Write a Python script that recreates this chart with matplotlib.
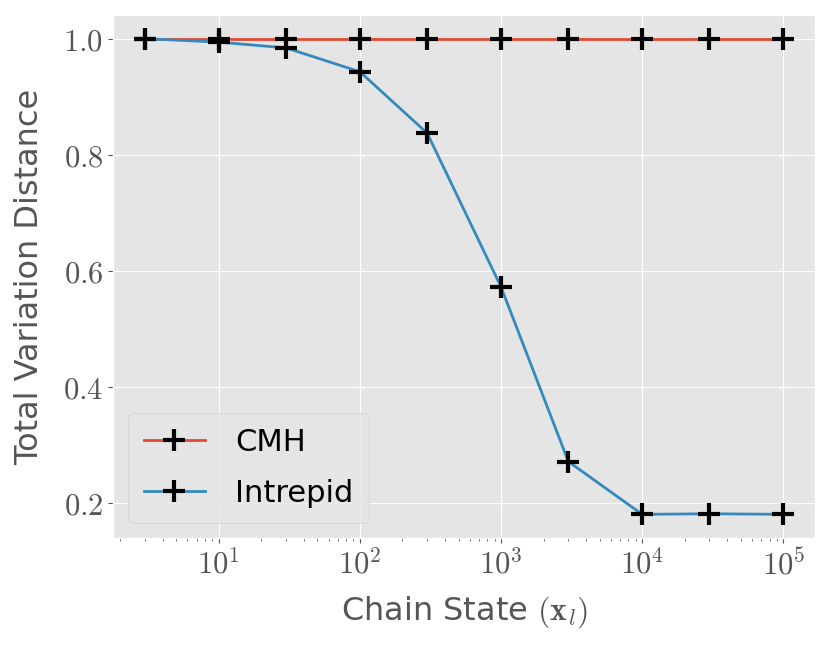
import numpy as np
import matplotlib
matplotlib.use("Agg")
import matplotlib.pyplot as plt
from matplotlib.ticker import FuncFormatter

# chain states and total variation distance
states = [3, 10, 30, 100, 300, 1000, 3000, 10000, 30000, 100000]
cmh = [1.0, 1.0, 1.0, 1.0, 1.0, 1.0, 1.0, 1.0, 1.0, 1.0]
intrepid = [1.0, 0.994, 0.984, 0.943, 0.837, 0.572, 0.271, 0.180, 0.181, 0.180]

plt.style.use("ggplot")
plt.rcParams["mathtext.fontset"] = "cm"
plt.rcParams["font.family"] = ["DejaVu Sans"]

fig, ax = plt.subplots(figsize=(8.31, 6.46), dpi=100)
ax.plot(states, cmh, label="CMH", color="#E24A33", lw=2,
        marker="+", ms=16, mew=3, mec="k")
ax.plot(states, intrepid, label="Intrepid", color="#348ABD", lw=2,
        marker="+", ms=16, mew=3, mec="k")
ax.set_xscale("log")

ax.yaxis.set_major_formatter(FuncFormatter(lambda v, p: r"$%.1f$" % v))
ax.xaxis.set_major_formatter(FuncFormatter(lambda v, p: r"$10^{%d}$" % round(np.log10(v))))
ax.tick_params(labelsize=22)
ax.set_xlabel(r"Chain State $(\mathbf{x}_l)$", fontsize=23, labelpad=10)
ax.set_ylabel("Total Variation Distance", fontsize=23, labelpad=13)

leg = ax.legend(loc="lower left", fontsize=22, handlelength=2.0, borderpad=0.5,
                handletextpad=1.0, labelspacing=0.7)
for t in leg.get_texts():
    t.set_color("black")

plt.subplots_adjust(left=0.136, right=0.981, top=0.977, bottom=0.167)
plt.savefig("out.png")
